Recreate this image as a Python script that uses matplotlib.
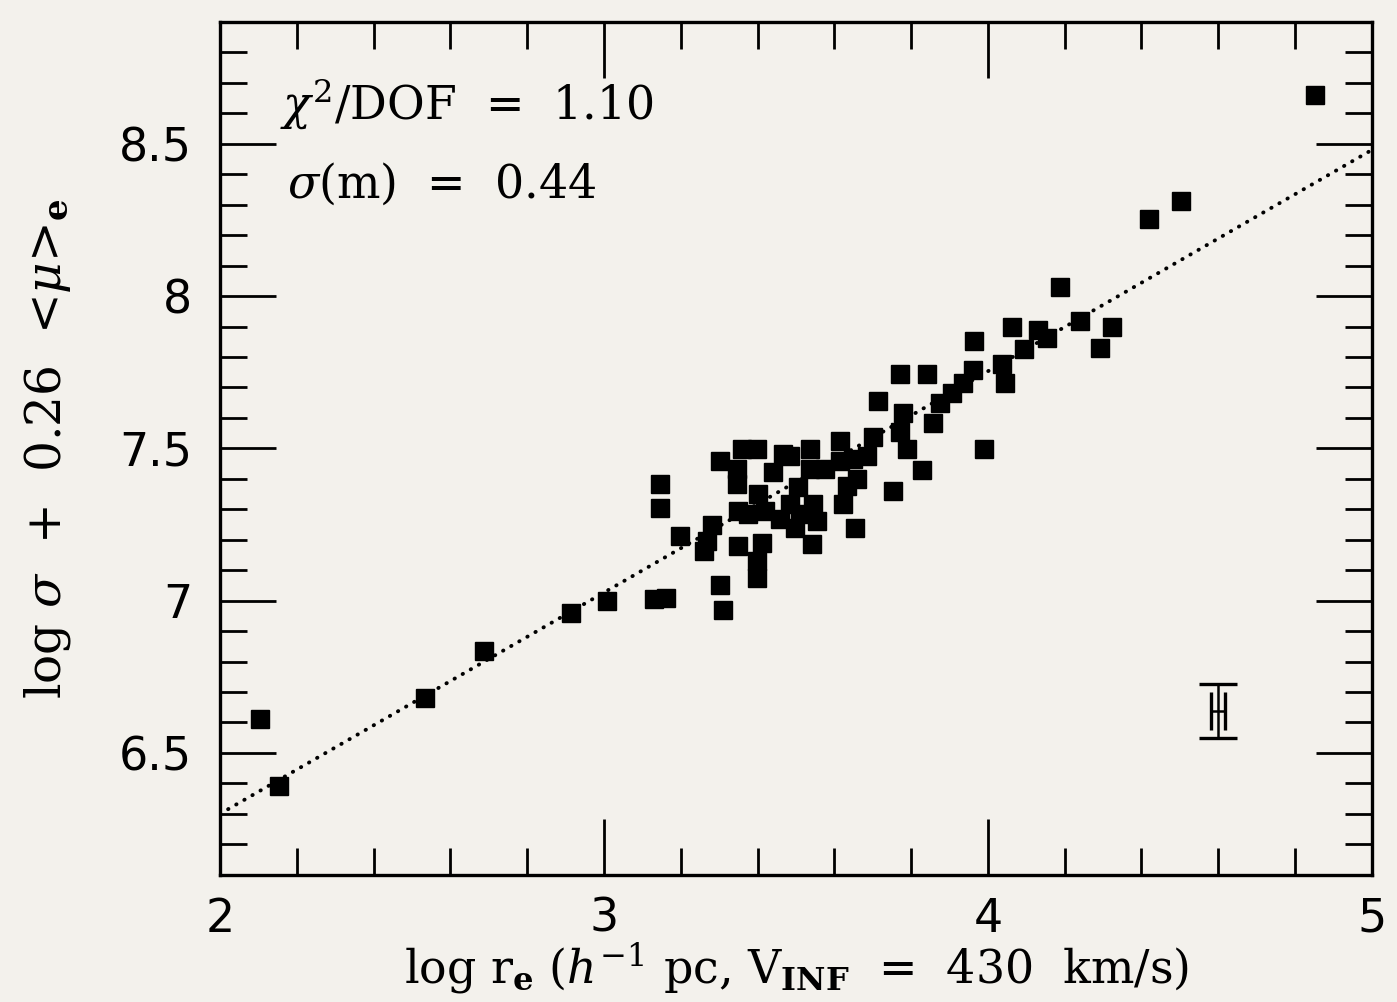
import matplotlib
matplotlib.use("Agg")
import matplotlib.pyplot as plt
from matplotlib.ticker import MultipleLocator

plt.rcParams['font.family'] = ['DejaVu Serif']
plt.rcParams['mathtext.fontset'] = 'dejavuserif'

# galaxies: log r_e vs log sigma + 0.26 <mu>_e
log_re = [2.104, 2.154, 2.534, 2.688, 2.914, 3.008, 3.130, 3.161, 3.146, 3.146,
          3.198, 3.281, 3.268, 3.260, 3.302, 3.302, 3.310, 3.349, 3.359, 3.398,
          3.346, 3.346, 3.398, 3.398, 3.411, 3.466, 3.440, 3.401, 3.375, 3.419,
          3.458, 3.484, 3.497, 3.536, 3.536, 3.505, 3.510, 3.542, 3.555, 3.544,
          3.576, 3.615, 3.615, 3.622, 3.654, 3.648, 3.701, 3.685, 3.659, 3.633,
          3.484, 3.753, 3.771, 3.789, 3.828, 3.714, 3.779, 3.857, 3.771, 3.841,
          3.875, 3.906, 3.935, 3.961, 3.964, 3.990, 4.044, 4.036, 4.0625, 4.094,
          4.130, 4.154, 4.1875, 4.240, 4.292, 4.323, 4.419, 4.503, 4.852, 3.349]
log_sig_mu = [6.610, 6.393, 6.682, 6.834, 6.961, 7.000, 7.006, 7.010, 7.305, 7.383,
              7.211, 7.250, 7.195, 7.162, 7.458, 7.052, 6.968, 7.179, 7.497, 7.497,
              7.432, 7.383, 7.130, 7.075, 7.188, 7.481, 7.422, 7.351, 7.286, 7.295,
              7.269, 7.318, 7.237, 7.497, 7.432, 7.373, 7.286, 7.185, 7.260, 7.318,
              7.432, 7.523, 7.458, 7.318, 7.240, 7.464, 7.536, 7.474, 7.399, 7.377,
              7.474, 7.360, 7.555, 7.497, 7.429, 7.656, 7.617, 7.584, 7.744, 7.744,
              7.649, 7.682, 7.714, 7.756, 7.854, 7.497, 7.714, 7.776, 7.899, 7.825,
              7.890, 7.864, 8.029, 7.919, 7.831, 7.899, 8.253, 8.312, 8.659, 7.295]

# best fit line
fit_x = [2.0, 5.0]
fit_y = [6.30, 8.48]

# typical error bar
err_x, err_y = 4.60, 6.637
err_dx, err_dy = 0.018, 0.088

chi2_text = r"$\chi^2$/DOF  =  1.10"
sigma_text = r"$\sigma$(m)  =  0.44"

paper = '#f3f1ec'
fig = plt.figure(figsize=(13.97, 10.02), dpi=100, facecolor=paper)
ax = fig.add_axes([0.1575, 0.127, 0.8245, 0.851])
ax.set_facecolor(paper)

ax.plot(fit_x, fit_y, color='black', lw=2.8, linestyle=(0, (0.1, 2.3)),
        dash_capstyle='round')
ax.plot(log_re, log_sig_mu, 's', color='black', ms=12.5, mec='black')
ax.errorbar([err_x], [err_y], yerr=[err_dy], color='black', capsize=14,
            elinewidth=1.8, capthick=2.4, fmt='none')
ax.errorbar([err_x], [err_y], xerr=[err_dx], color='black', capsize=14,
            elinewidth=1.8, capthick=2.4, fmt='none')

ax.set_xlim(2, 5)
ax.set_ylim(6.1, 8.9)
ax.xaxis.set_major_locator(MultipleLocator(1))
ax.xaxis.set_minor_locator(MultipleLocator(0.2))
ax.yaxis.set_major_locator(MultipleLocator(0.5))
ax.yaxis.set_minor_locator(MultipleLocator(0.1))
ax.set_xticks([2, 3, 4, 5], ['2', '3', '4', '5'])
ax.set_yticks([6.5, 7, 7.5, 8, 8.5], ['6.5', '7', '7.5', '8', '8.5'])

for s in ax.spines.values():
    s.set_linewidth(2.4)
ax.tick_params(which='both', direction='in', top=True, right=True, width=2)
ax.tick_params(which='major', length=40)
ax.tick_params(which='minor', length=19.5)
ax.tick_params(axis='x', which='major', pad=16, labelsize=33)
ax.tick_params(axis='y', which='major', pad=20, labelsize=33)
for lab in ax.get_xticklabels() + ax.get_yticklabels():
    lab.set_family('DejaVu Sans')

fig.text(0.570, 0.018,
         r"log r$_\mathbf{e}$ ($h^{-1}$ pc, V$_\mathbf{INF}$  =  430  km/s)",
         fontsize=33, ha='center', va='baseline')
ax.set_ylabel(r"log $\sigma$  +  0.26  <$\mu$>$_\mathbf{e}$", fontsize=35, labelpad=33)

ax.text(0.052, 0.887, chi2_text, transform=ax.transAxes, fontsize=33)
ax.text(0.058, 0.794, sigma_text, transform=ax.transAxes, fontsize=33)

fig.savefig('out.png', dpi=100, facecolor=paper)
